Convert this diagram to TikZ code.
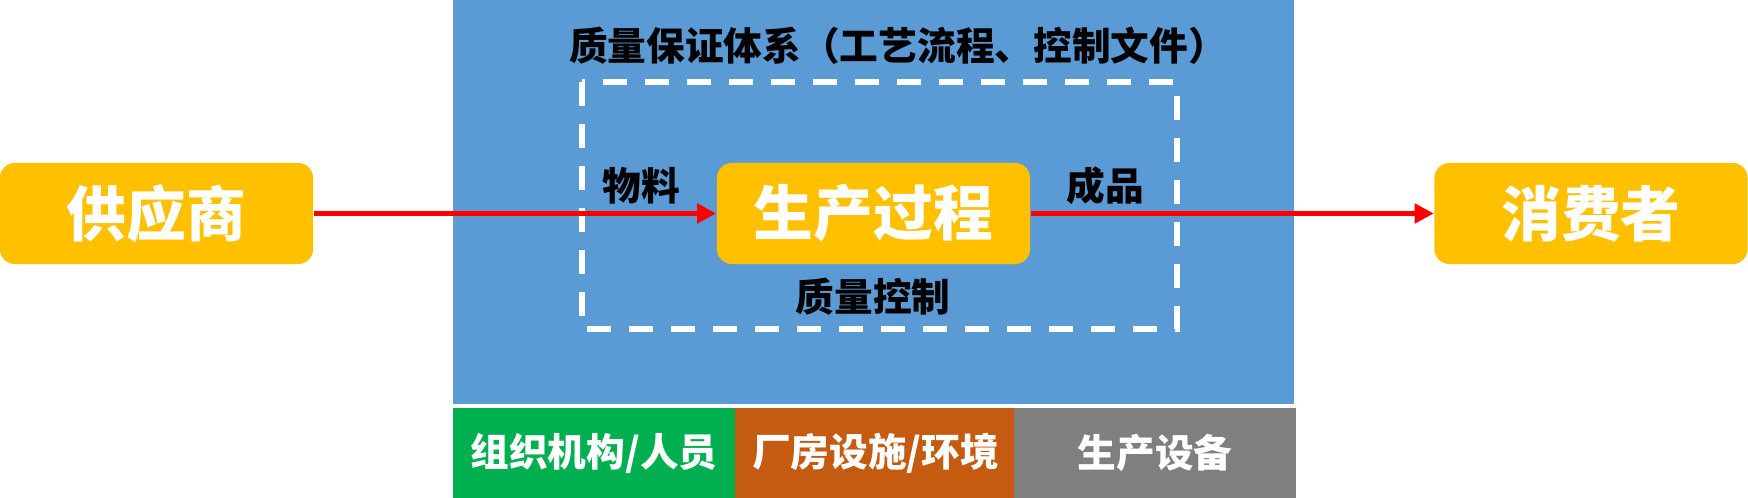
\documentclass[tikz,border=0pt]{standalone}
\usepackage{fontspec}
\setmainfont{Noto Sans CJK SC}
\usetikzlibrary{arrows.meta}
\definecolor{boxyellow}{HTML}{FFC000}
\definecolor{qablue}{HTML}{5B9BD5}
\definecolor{orggreen}{HTML}{00B050}
\definecolor{plantorange}{HTML}{C55A11}
\definecolor{equipgray}{HTML}{7F7F7F}
\tikzset{
  stagebox/.style={fill=boxyellow, rounded corners=0.15cm, minimum width=3.13cm, minimum height=1.01cm, inner sep=0pt, text=white, font=\bfseries\fontsize{17}{20}\selectfont},
  basebox/.style={minimum width=2.81cm, minimum height=0.90cm, inner sep=0pt, text=white, font=\bfseries\fontsize{11}{13}\selectfont},
  tag/.style={font=\bfseries\fontsize{11}{13}\selectfont},
  flow/.style={red, line width=1.6pt, -{Triangle[length=0.19cm,width=0.19cm]}}
}
\begin{document}
\begin{tikzpicture}[x=0.01cm,y=-0.01cm]
    \useasboundingbox (0,0) rectangle (1748,498);
    \fill [qablue] (453,0) rectangle (1294,404);
    \draw [white, line width=1.6pt, dash pattern=on 0.24cm off 0.18cm] (582,82) rectangle (1177,329);
    \node (title) at (898,46) [tag] {质量保证体系（工艺流程、控制文件）};
    \node (supplier) at (156.5,213.5) [stagebox] {供应商};
    \node (production) at (873.5,213.5) [stagebox] {生产过程};
    \node (consumer) at (1591,213.5) [stagebox] {消费者};
    \draw [flow] (supplier) -- (production);
    \draw [flow] (production) -- (consumer);
    \node (material) at (641,186) [tag] {物料};
    \node (product) at (1105,186) [tag] {成品};
    \node (qc) at (873,297) [tag] {质量控制};
    \node (org) at (594,453) [basebox, fill=orggreen] {组织机构/人员};
    \node (plant) at (875.5,453) [basebox, fill=plantorange] {厂房设施/环境};
    \node (equip) at (1155,453) [basebox, fill=equipgray] {生产设备};
\end{tikzpicture}
\end{document}
